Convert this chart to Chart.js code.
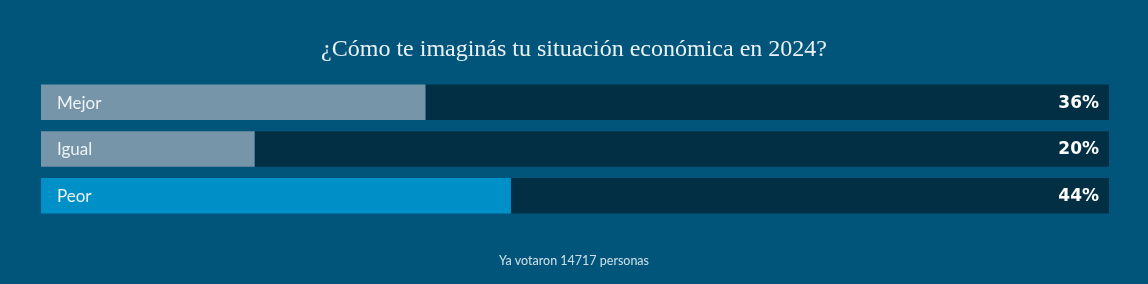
<!DOCTYPE html>
<html>
<head>
<meta charset="utf-8">
<script src="https://cdn.jsdelivr.net/npm/chart.js@4"></script>
<style>
  html, body { margin: 0; padding: 0; background: #02557a; }
  #wrap { width: 1148px; height: 284px; }
</style>
</head>
<body>
<div id="wrap"><canvas id="myChart" width="1148" height="284"></canvas></div>
<script>
let titleText = '¿Cómo te imaginás tu situación económica en 2024?';
let footerText = 'Ya votaron 14717 personas';
let categories = ['Mejor', 'Igual', 'Peor'];
let percentages = [36, 20, 44];
let fillColors = ['#7795a9', '#7795a9', '#0090c8'];

// the dark track behind each bar is what is left up to 100%
let remainders = percentages.map(function(v){ return 100 - v; });

let labelsPlugin = {
    id: 'barLabels',
    afterDatasetsDraw: function(chart){
        let ctx = chart.ctx;
        let yScale = chart.scales.y;
        let area = chart.chartArea;
        ctx.save();
        ctx.textBaseline = 'middle';
        for(let i = 0; i < categories.length; i++){
            let y = yScale.getPixelForValue(i);
            ctx.fillStyle = '#eef3f6';
            ctx.font = '17px Lato, "Open Sans", sans-serif';
            ctx.textAlign = 'left';
            ctx.fillText(categories[i], area.left + 16, y + 1);
            ctx.fillStyle = '#ffffff';
            ctx.font = 'bold 17px "DejaVu Sans", "Open Sans", sans-serif';
            ctx.textAlign = 'right';
            ctx.fillText(percentages[i] + '%', area.right - 10, y + 1);
        }
        ctx.textAlign = 'center';
        ctx.fillStyle = '#e9f1f5';
        ctx.font = '24px "Liberation Serif", "DejaVu Serif", serif';
        ctx.fillText(titleText, chart.width / 2, 50);
        ctx.fillStyle = '#cfe0ea';
        ctx.font = '12.5px Lato, "Open Sans", sans-serif';
        ctx.fillText(footerText, chart.width / 2, 261);
        ctx.restore();
    }
};

let ctx = document.getElementById('myChart').getContext('2d');
let config = {
    type: 'bar',
    data: {
        labels: categories,
        datasets: [{
            label: 'Porcentaje',
            data: percentages,
            backgroundColor: fillColors,
            borderWidth: 0,
            barPercentage: 0.76,
            categoryPercentage: 1
        }, {
            label: 'Resto',
            data: remainders,
            backgroundColor: '#032f45',
            borderWidth: 0,
            barPercentage: 0.76,
            categoryPercentage: 1
        }]
    },
    options: {
        indexAxis: 'y',
        responsive: false,
        animation: false,
        layout: {
            padding: { left: 41, right: 39, top: 79, bottom: 65 }
        },
        scales: {
            x: { stacked: true, min: 0, max: 100, display: false },
            y: { stacked: true, display: false }
        },
        plugins: {
            legend: { display: false },
            tooltip: { enabled: false }
        }
    },
    plugins: [labelsPlugin]
};
let myChart = new Chart(ctx, config);
</script>
</body>
</html>
